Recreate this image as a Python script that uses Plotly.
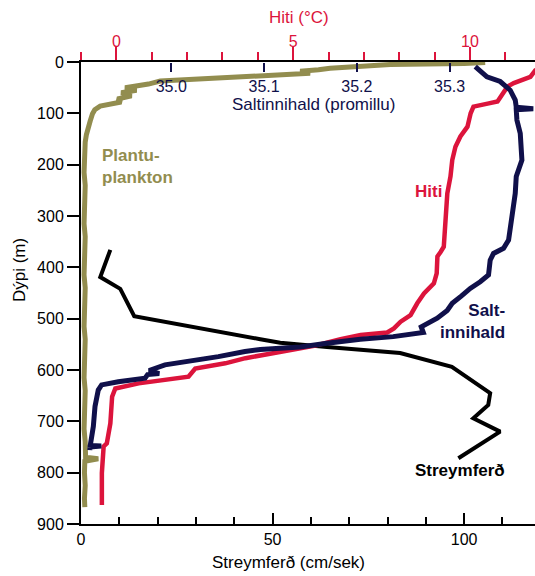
import plotly.graph_objects as go

# ---------------- data ----------------
# Plankton (arbitrary units, drawn on the bottom axis scale) vs depth (m)
plankton_depth = [1, 3, 5, 8, 12, 15, 18, 22, 25, 29,
                  33, 37, 43, 50, 55, 60, 66, 72, 78, 86,
                  93, 101, 115, 129, 142, 156, 175, 191, 215, 240,
                  265, 290, 315, 340, 365, 390, 415, 440, 465, 490,
                  515, 540, 565, 590, 615, 640, 665, 690, 715, 740,
                  760, 770, 773, 778, 800, 825, 850, 867]
plankton_val = [105.5, 100.0, 80.7, 72.8, 65.0, 62.0, 57.2, 59.8, 50.7, 41.6,
                31.2, 20.7, 17.6, 11.5, 14.5, 10.5, 13.2, 9.5, 10.5, 5.0,
                3.6, 3.0, 2.4, 1.8, 1.4, 1.1, 0.9, 1.0, 0.8, 1.1,
                0.9, 1.0, 0.8, 1.1, 0.9, 1.0, 0.8, 1.1, 0.9, 1.0,
                0.8, 1.1, 0.9, 1.0, 0.8, 1.1, 0.9, 1.0, 0.8, 1.1,
                1.0, 1.2, 4.5, 1.0, 0.9, 1.1, 0.9, 1.0]

# Temperature (deg C) vs depth (m)
temp_depth = [5, 16, 29, 41, 48, 68, 77, 81, 87, 100, 126,
              145, 165, 191, 223, 256, 308, 360, 370, 379, 412,
              431, 451, 470, 493, 506, 519, 527, 532, 540, 553,
              560, 568, 577, 587, 597, 613, 620, 626, 636, 652,
              704, 743, 749, 801, 863]
temp_val = [12.2, 11.85, 11.71, 11.24, 11.06, 10.87, 10.78, 10.5, 10.1, 10.02, 9.93,
            9.73, 9.59, 9.5, 9.45, 9.36, 9.31, 9.26, 9.17, 9.08, 9.06,
            8.98, 8.7, 8.51, 8.32, 8.04, 7.85, 7.66, 6.91, 6.34, 5.59,
            5.02, 4.46, 3.65, 3.08, 2.23, 2.04, 1.29, 0.63, -0.03, -0.12,
            -0.17, -0.27, -0.36, -0.41, -0.41]

# Salinity (promille) vs depth (m)
sal_depth = [9, 19, 29, 38, 55, 74, 88, 91, 93, 113,
             139, 191, 223, 256, 308, 347, 363, 373, 386, 415,
             428, 441, 456, 470, 484, 499, 516, 527, 535, 540,
             548, 555, 560, 564, 574, 584, 590, 601, 607, 609,
             616, 623, 629, 639, 671, 710, 736, 747, 748, 750, 756]
sal_val = [35.3276, 35.3348, 35.3402, 35.3545, 35.3653, 35.3707, 35.3718, 35.3901, 35.3718, 35.3725,
           35.3761, 35.3779, 35.3718, 35.3707, 35.3671, 35.3635, 35.3581, 35.3473, 35.3437, 35.3419,
           35.3330, 35.3222, 35.3125, 35.3028, 35.2974, 35.2866, 35.2694, 35.2716, 35.2392, 35.2037,
           35.1678, 35.1390, 35.0959, 35.0794, 35.0507, 35.0183, 34.9932, 34.9760, 34.9870, 34.9745,
           34.9717, 34.9429, 34.9249, 34.9213, 34.9178, 34.9160, 34.9141, 34.9127, 34.9246, 34.9124, 34.9122]

# Current speed (cm/sek) vs depth (m)
cur_depth = [366, 419, 442, 495, 540, 547, 555, 561, 567, 594, 645, 668, 694, 720, 772]
cur_val = [7.65, 5.03, 10.25, 13.9, 46.8, 52.0, 64.2, 72.8, 83.3, 96.8, 106.8, 106.3, 102.4, 109.4, 98.5]

bottom_ticks = [0, 50, 100]
sal_ticks = [35.0, 35.1, 35.2, 35.3]

RED = "#DC143C"
NAVY = "#10104A"
OLIVE = "#928D4F"
FONT = "Liberation Sans, Arial, sans-serif"

fig = go.Figure()
fig.add_trace(go.Scatter(x=plankton_val, y=plankton_depth, xaxis="x", yaxis="y",
                         mode="lines", line=dict(color=OLIVE, width=5), showlegend=False))
fig.add_trace(go.Scatter(x=cur_val, y=cur_depth, xaxis="x", yaxis="y",
                         mode="lines", line=dict(color="black", width=4), showlegend=False))
fig.add_trace(go.Scatter(x=temp_val, y=temp_depth, xaxis="x2", yaxis="y",
                         mode="lines", line=dict(color=RED, width=4.5), showlegend=False))
fig.add_trace(go.Scatter(x=sal_val, y=sal_depth, xaxis="x3", yaxis="y",
                         mode="lines", line=dict(color=NAVY, width=5), showlegend=False))

fig.update_layout(
    width=535, height=576,
    margin=dict(l=81, r=0, t=62, b=52),
    paper_bgcolor="white", plot_bgcolor="white",
    font=dict(family=FONT, size=16, color="black"),
    xaxis=dict(range=[0, 118.5], showline=True, linecolor="black", linewidth=2,
               ticks="inside", ticklen=11, tickwidth=2, tickcolor="black",
               tickvals=bottom_ticks, showgrid=False, zeroline=False,
               minor=dict(dtick=10, tick0=0, ticks="inside", ticklen=7, tickwidth=2, tickcolor="black"),
               tickfont=dict(size=16)),
    yaxis=dict(range=[900, 0], showline=True, linecolor="black", linewidth=2,
               ticks="outside", ticklen=12, tickwidth=2, tickcolor="black",
               dtick=100, showgrid=False, zeroline=False, tickfont=dict(size=16)),
    xaxis2=dict(overlaying="x", side="top", anchor="y", range=[-1.0, 11.84],
                showline=True, linecolor="black", linewidth=2,
                ticks="outside", ticklen=13, tickwidth=2, tickcolor=RED,
                tick0=0, dtick=5, showgrid=False, zeroline=False,
                minor=dict(dtick=1, tick0=0, ticks="outside", ticklen=8, tickwidth=2, tickcolor=RED),
                tickfont=dict(size=16, color=RED), ticklabelstandoff=-6),
    xaxis3=dict(overlaying="x", side="bottom", anchor="free", position=1.0,
                range=[34.9027, 35.392],
                showline=False, ticks="outside", ticklen=9, tickwidth=2, tickcolor=NAVY,
                tickvals=sal_ticks, tickformat=".1f", ticklabelstandoff=1,
                showgrid=False, zeroline=False, tickfont=dict(size=16, color=NAVY)),
)

annotations = [
    dict(text="Hiti (°C)", xref="paper", yref="paper", x=0.480, y=1.097,
         xanchor="center", yanchor="middle",
         showarrow=False, font=dict(size=17, color=RED)),
    dict(text="Streymferð (cm/sek)", xref="paper", yref="paper", x=0.456, y=-0.0844,
         xanchor="center", yanchor="middle",
         showarrow=False, font=dict(size=17, color="black")),
    dict(text="Dýpi (m)", xref="paper", yref="paper", x=-0.134, y=0.55, textangle=-90,
         xanchor="center", yanchor="middle",
         showarrow=False, font=dict(size=17, color="black")),
    dict(text="Saltinnihald (promillu)", xref="paper", yref="paper", x=0.513, y=0.907,
         xanchor="center", yanchor="middle",
         showarrow=False, font=dict(size=17, color=NAVY)),
    dict(text="<b>Plantu-<br>plankton</b>", xref="x", yref="y", x=4.96, y=203,
         xanchor="left", yanchor="middle", align="left", showarrow=False,
         font=dict(size=17, color=OLIVE)),
    dict(text="<b>Hiti</b>", xref="x", yref="y", x=90.8, y=253,
         xanchor="center", yanchor="middle",
         showarrow=False, font=dict(size=17, color=RED)),
    dict(text="<b>Salt-<br>innihald</b>", xref="x", yref="y", x=111.2, y=506,
         xanchor="right", yanchor="middle", align="right", showarrow=False,
         font=dict(size=17, color=NAVY)),
    dict(text="<b>Streymferð</b>", xref="x", yref="y", x=98.8, y=795,
         xanchor="center", yanchor="middle",
         showarrow=False, font=dict(size=17, color="black")),
]
fig.update_layout(annotations=annotations)

fig.write_html("out.html")
